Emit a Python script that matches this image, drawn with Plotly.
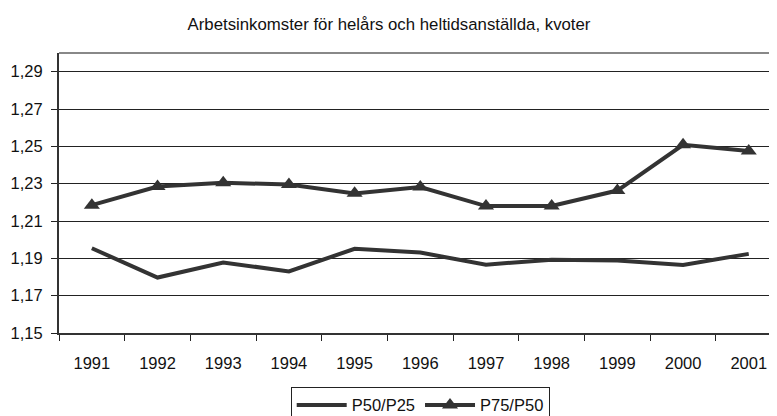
import plotly.graph_objects as go

years = ["1991", "1992", "1993", "1994", "1995", "1996", "1997", "1998", "1999", "2000", "2001"]
p50_p25 = [1.1954, 1.1797, 1.1878, 1.1830, 1.1951, 1.1931, 1.1866, 1.1893, 1.1888, 1.1864, 1.1924]
p75_p50 = [1.2185, 1.2285, 1.2305, 1.2295, 1.2248, 1.2282, 1.2180, 1.2180, 1.2263, 1.2508, 1.2475]
y_ticks = [1.15, 1.17, 1.19, 1.21, 1.23, 1.25, 1.27, 1.29]

title_text = "Arbetsinkomster för helårs och heltidsanställda, kvoter"
FONT = "Liberation Sans, Arial, sans-serif"
LINE_COLOR = "#333333"

# the page body has an 8px margin, so the figure is placed at (8, 8)
W, H = 769, 408

fig = go.Figure()
fig.add_trace(go.Scatter(
    x=years, y=p50_p25, name="P50/P25", mode="lines",
    line=dict(color=LINE_COLOR, width=4),
))
fig.add_trace(go.Scatter(
    x=years, y=p75_p50, name="P75/P50", mode="lines+markers",
    line=dict(color=LINE_COLOR, width=4),
    marker=dict(symbol="triangle-up", size=14, color=LINE_COLOR),
))

fig.update_layout(
    width=W, height=H,
    margin=dict(l=51, r=0, t=45, b=83.3, autoexpand=False),
    paper_bgcolor="white", plot_bgcolor="white",
    separators=", ",
    font=dict(family=FONT, size=16, color="#111111"),
    title=dict(text=title_text, font=dict(family=FONT, size=16.8, color="#111111"),
               xref="container", yref="container", x=381 / W, y=1 - 16 / H,
               xanchor="center", yanchor="middle"),
    showlegend=True,
    legend=dict(orientation="h", xref="container", yref="container",
                x=282.7 / W, y=1 - 378.7 / H, xanchor="left", yanchor="top",
                bordercolor="#222222", borderwidth=1, bgcolor="white",
                font=dict(family=FONT, size=16.5, color="#111111"),
                itemwidth=50, traceorder="normal"),
)

fig.update_xaxes(
    type="category", range=[-0.5, 10.43],
    tickson="boundaries", ticks="outside", ticklen=6, tickcolor="#222222",
    showline=True, linecolor="#333333", linewidth=2,
    showgrid=False, zeroline=False,
    tickfont=dict(family=FONT, size=16.5, color="#111111"),
    ticklabelstandoff=14,
)
fig.update_yaxes(
    range=[1.15, 1.30], tickvals=y_ticks, tickformat=".2f",
    ticks="outside", ticklen=6, tickcolor="#222222",
    showline=True, linecolor="#333333", linewidth=2,
    showgrid=True, gridcolor="#222222", gridwidth=1,
    zeroline=False,
    tickfont=dict(family=FONT, size=16.5, color="#111111"),
    ticklabelstandoff=5,
)

# top border of plot area
fig.add_shape(type="line", xref="paper", yref="paper", x0=0, x1=1, y0=1, y1=1,
              line=dict(color="#888888", width=2))

fig.write_html("out.html")
